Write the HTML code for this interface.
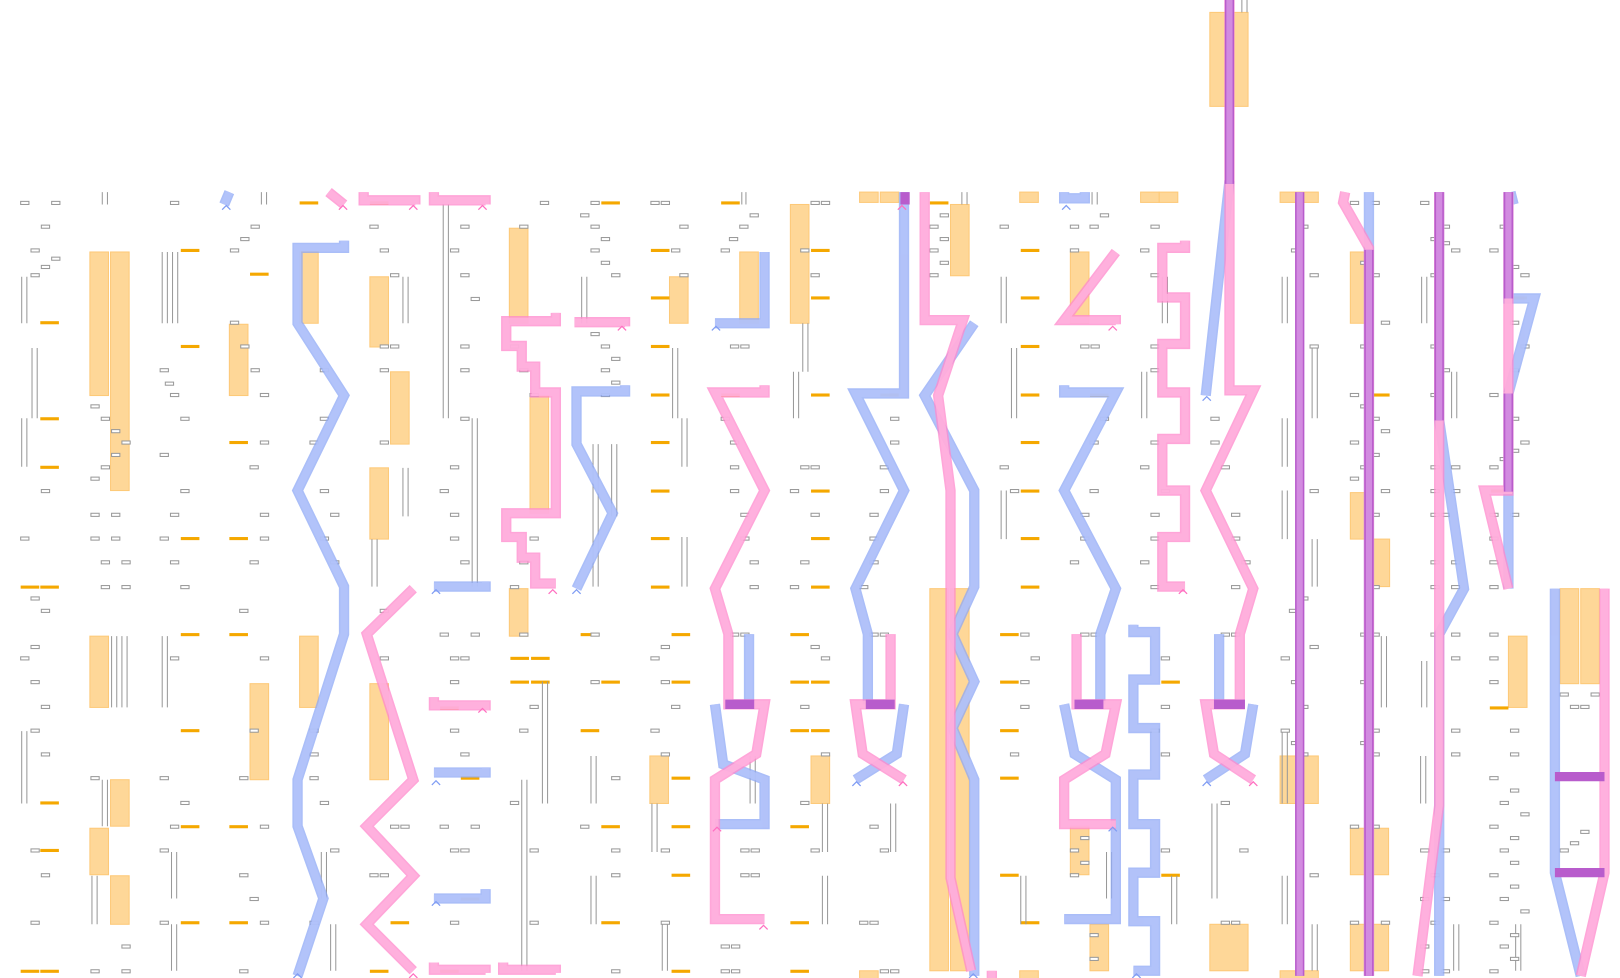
<!DOCTYPE html>
<html><head><meta charset="utf-8"><style>
html,body{margin:0;padding:0;background:#fff;overflow:hidden}
svg{display:block}
.o{fill:#fed798;stroke:#fdc978;stroke-width:1}
.b{fill:#f5a800}
.bo{fill:none;stroke:#8ea8f6;stroke-width:10;stroke-linejoin:miter;opacity:.75}
.bi{fill:none;stroke:#b4c4fa;stroke-width:7;stroke-linejoin:miter;opacity:.85}
.po{fill:none;stroke:#ff88cc;stroke-width:10;stroke-linejoin:miter;opacity:.75}
.pi{fill:none;stroke:#ffb2de;stroke-width:7;stroke-linejoin:miter;opacity:.85}
.u{stroke:#b85ccc;stroke-width:9;fill:none}
.ui{stroke:#d28be0;stroke-width:6;fill:none}
.g{fill:#fff;stroke:#999;stroke-width:1}
.v{stroke:#999;stroke-width:1}
</style></head><body>
<svg width="1620" height="978" viewBox="0 0 1568 947" preserveAspectRatio="none">
<g class="o">
<rect x="87" y="244" width="18" height="139"/><rect x="107" y="244" width="18" height="231"/>
<rect x="1171" y="12" width="37" height="91"/>
<rect x="290" y="244" width="18" height="69"/><rect x="358" y="268" width="18" height="68"/>
<rect x="378" y="360" width="18" height="70"/><rect x="222" y="314" width="18" height="69"/>
<rect x="358" y="453" width="18" height="69"/><rect x="493" y="221" width="18" height="92"/>
<rect x="513" y="383" width="18" height="114"/><rect x="648" y="268" width="18" height="45"/>
<rect x="716" y="244" width="18" height="69"/><rect x="765" y="198" width="18" height="115"/>
<rect x="920" y="198" width="18" height="69"/><rect x="1036" y="244" width="18" height="69"/>
<rect x="832" y="186" width="18" height="10"/><rect x="852" y="186" width="18" height="10"/>
<rect x="1104" y="186" width="18" height="10"/><rect x="1122" y="186" width="18" height="10"/>
<rect x="1239" y="186" width="37" height="10"/><rect x="987" y="186" width="18" height="10"/>
<rect x="1307" y="244" width="18" height="69"/><rect x="1307" y="477" width="18" height="45"/>
<rect x="1327" y="522" width="18" height="46"/>
<rect x="87" y="616" width="18" height="69"/><rect x="290" y="616" width="18" height="69"/>
<rect x="242" y="662" width="18" height="93"/><rect x="358" y="662" width="18" height="93"/>
<rect x="493" y="570" width="18" height="46"/>
<rect x="107" y="755" width="18" height="45"/><rect x="87" y="802" width="18" height="45"/>
<rect x="107" y="848" width="18" height="47"/>
<rect x="629" y="732" width="18" height="46"/><rect x="785" y="732" width="18" height="46"/>
<rect x="1239" y="732" width="37" height="46"/>
<rect x="1307" y="802" width="37" height="45"/><rect x="1307" y="895" width="37" height="45"/>
<rect x="1171" y="895" width="37" height="45"/><rect x="1055" y="895" width="18" height="45"/>
<rect x="1036" y="800" width="18" height="47"/><rect x="1460" y="616" width="18" height="69"/>
<rect x="1510" y="570" width="18" height="92"/><rect x="1530" y="570" width="18" height="92"/>
<rect x="900" y="570" width="18" height="370"/><rect x="920" y="570" width="18" height="370"/>
<rect x="832" y="940" width="18" height="8"/><rect x="987" y="940" width="18" height="8"/>
<rect x="1239" y="940" width="37" height="8"/>
</g>
<g class="b">
<rect x="20" y="567" width="18" height="3"/><rect x="39" y="567" width="18" height="3"/>
<rect x="20" y="939" width="18" height="3"/><rect x="39" y="939" width="18" height="3"/>
<rect x="39" y="311" width="18" height="3"/><rect x="39" y="404" width="18" height="3"/>
<rect x="39" y="451" width="18" height="3"/><rect x="39" y="776" width="18" height="3"/>
<rect x="39" y="822" width="18" height="3"/>
<rect x="175" y="241" width="18" height="3"/><rect x="175" y="334" width="18" height="3"/>
<rect x="175" y="520" width="18" height="3"/><rect x="175" y="613" width="18" height="3"/>
<rect x="175" y="706" width="18" height="3"/><rect x="175" y="799" width="18" height="3"/>
<rect x="175" y="892" width="18" height="3"/>
<rect x="222" y="427" width="18" height="3"/><rect x="222" y="520" width="18" height="3"/>
<rect x="222" y="613" width="18" height="3"/><rect x="222" y="799" width="18" height="3"/>
<rect x="222" y="892" width="18" height="3"/><rect x="242" y="264" width="18" height="3"/>
<rect x="290" y="195" width="18" height="3"/><rect x="358" y="195" width="18" height="3"/>
<rect x="358" y="939" width="18" height="3"/><rect x="378" y="892" width="18" height="3"/>
<rect x="426" y="684" width="18" height="3"/><rect x="426" y="939" width="18" height="3"/>
<rect x="446" y="752" width="18" height="3"/><rect x="446" y="869" width="18" height="3"/>
<rect x="494" y="636" width="18" height="3"/><rect x="514" y="636" width="18" height="3"/>
<rect x="494" y="659" width="18" height="3"/><rect x="514" y="659" width="18" height="3"/>
<rect x="562" y="613" width="18" height="3"/><rect x="562" y="706" width="18" height="3"/>
<rect x="582" y="195" width="18" height="3"/><rect x="582" y="659" width="18" height="3"/>
<rect x="582" y="799" width="18" height="3"/><rect x="582" y="892" width="18" height="3"/>
<rect x="630" y="241" width="18" height="3"/><rect x="630" y="287" width="18" height="3"/>
<rect x="630" y="334" width="18" height="3"/><rect x="630" y="381" width="18" height="3"/>
<rect x="630" y="427" width="18" height="3"/><rect x="630" y="474" width="18" height="3"/>
<rect x="630" y="520" width="18" height="3"/><rect x="630" y="567" width="18" height="3"/>
<rect x="650" y="613" width="18" height="3"/><rect x="650" y="659" width="18" height="3"/>
<rect x="650" y="752" width="18" height="3"/><rect x="650" y="799" width="18" height="3"/>
<rect x="650" y="846" width="18" height="3"/><rect x="650" y="939" width="18" height="3"/>
<rect x="698" y="195" width="18" height="3"/><rect x="698" y="381" width="18" height="3"/>
<rect x="765" y="613" width="18" height="3"/><rect x="765" y="659" width="18" height="3"/>
<rect x="765" y="706" width="18" height="3"/><rect x="765" y="799" width="18" height="3"/>
<rect x="765" y="892" width="18" height="3"/><rect x="765" y="939" width="18" height="3"/>
<rect x="785" y="241" width="18" height="3"/><rect x="785" y="287" width="18" height="3"/>
<rect x="785" y="381" width="18" height="3"/><rect x="785" y="474" width="18" height="3"/>
<rect x="785" y="520" width="18" height="3"/><rect x="785" y="567" width="18" height="3"/>
<rect x="785" y="659" width="18" height="3"/><rect x="785" y="706" width="18" height="3"/>
<rect x="852" y="381" width="18" height="3"/><rect x="900" y="195" width="18" height="3"/>
<rect x="968" y="613" width="18" height="3"/><rect x="968" y="659" width="18" height="3"/>
<rect x="968" y="706" width="18" height="3"/><rect x="968" y="752" width="18" height="3"/>
<rect x="968" y="846" width="18" height="3"/>
<rect x="988" y="241" width="18" height="3"/><rect x="988" y="287" width="18" height="3"/>
<rect x="988" y="334" width="18" height="3"/><rect x="988" y="381" width="18" height="3"/>
<rect x="988" y="427" width="18" height="3"/><rect x="988" y="474" width="18" height="3"/>
<rect x="988" y="520" width="18" height="3"/><rect x="988" y="567" width="18" height="3"/>
<rect x="988" y="892" width="18" height="3"/><rect x="1055" y="381" width="18" height="3"/>
<rect x="1124" y="659" width="18" height="3"/><rect x="1124" y="846" width="18" height="3"/>
<rect x="1460" y="287" width="18" height="3"/><rect x="1442" y="684" width="18" height="3"/>
<rect x="1443" y="474" width="18" height="3"/><rect x="1327" y="381" width="18" height="3"/>
</g>
<g class="v">
<path d="M21 268V313M26 268V313M31 337V405M36 337V405M21 405V452M26 405V452M99 186V198M104 186V198M157 244V313M162 244V313M167 244V313M172 244V313M253 186V198M258 186V198M429 198V405M434 198V405M457 405V568M462 405V568M563 268V313M568 268V313M574 430V568M579 430V568M592 430V500M597 430V500M651 337V405M656 337V405M660 405V452M665 405V452M718 186V198M722 186V198M768 360V405M773 360V405M777 313V360M782 313V360M931 186V198M936 186V198M969 268V313M974 268V313M979 337V405M984 337V405M969 475V522M974 475V522M1057 186V198M1062 186V198M1105 360V405M1110 360V405M1125 268V313M1130 268V313M1202 0V12M1207 0V12M1241 268V313M1246 268V313M1241 405V452M1246 405V452M1241 475V522M1246 475V522M1270 337V405M1275 337V405M1270 522V568M1275 522V568M1337 616V685M1342 616V685M1376 268V313M1381 268V313M1376 640V685M1381 640V685M1405 360V405M1410 360V405M108 616V685M113 616V685M118 616V685M123 616V685M157 616V685M162 616V685M21 708V778M26 708V778M99 755V800M104 755V800M89 848V895M94 848V895M166 825V870M171 825V870M166 895V940M171 895V940M311 825V870M316 825V870M320 895V940M325 895V940M360 522V568M365 522V568M390 268V313M395 268V313M390 453V500M395 453V500M505 755V940M510 755V940M525 660V778M530 660V778M572 732V778M577 732V778M572 848V895M577 848V895M631 778V825M636 778V825M641 895V940M646 895V940M660 520V568M665 520V568M726 732V778M731 732V778M796 778V825M801 778V825M796 848V895M801 848V895M862 778V825M867 778V825M988 848V895M993 848V895M1071 825V870M1076 825V870M1134 848V895M1139 848V895M1173 778V870M1178 778V870M1241 848V895M1246 848V895M1270 895V940M1275 895V940M1375 732V778M1380 732V778M1241 708V778M1246 708V778M1467 895V940M1472 895V940M1407 895V940M1412 895V940"/>
</g>
<g class="g">
<rect x="20" y="195" width="8" height="3"/><rect x="50" y="195" width="8" height="3"/><rect x="40" y="218" width="8" height="3"/>
<rect x="30" y="241" width="8" height="3"/><rect x="50" y="249" width="8" height="3"/><rect x="40" y="257" width="8" height="3"/><rect x="30" y="265" width="8" height="3"/>
<rect x="165" y="195" width="8" height="3"/><rect x="243" y="218" width="8" height="3"/><rect x="233" y="230" width="8" height="3"/><rect x="223" y="241" width="8" height="3"/>
<rect x="223" y="311" width="8" height="3"/><rect x="233" y="334" width="8" height="3"/><rect x="243" y="357" width="8" height="3"/><rect x="160" y="370" width="8" height="3"/>
<rect x="88" y="392" width="8" height="3"/><rect x="98" y="404" width="8" height="3"/><rect x="108" y="416" width="8" height="3"/><rect x="118" y="427" width="8" height="3"/>
<rect x="108" y="439" width="8" height="3"/><rect x="98" y="451" width="8" height="3"/><rect x="88" y="462" width="8" height="3"/><rect x="40" y="474" width="8" height="3"/>
<rect x="88" y="497" width="8" height="3"/><rect x="108" y="497" width="8" height="3"/><rect x="20" y="520" width="8" height="3"/><rect x="88" y="520" width="8" height="3"/><rect x="108" y="520" width="8" height="3"/>
<rect x="98" y="543" width="8" height="3"/><rect x="118" y="543" width="8" height="3"/><rect x="98" y="567" width="8" height="3"/><rect x="118" y="567" width="8" height="3"/>
<rect x="30" y="578" width="8" height="3"/><rect x="40" y="590" width="8" height="3"/><rect x="30" y="625" width="8" height="3"/><rect x="20" y="636" width="8" height="3"/>
<rect x="30" y="659" width="8" height="3"/><rect x="40" y="683" width="8" height="3"/><rect x="30" y="706" width="8" height="3"/><rect x="40" y="729" width="8" height="3"/>
<rect x="88" y="752" width="8" height="3"/><rect x="30" y="822" width="8" height="3"/><rect x="40" y="846" width="8" height="3"/><rect x="30" y="892" width="8" height="3"/>
<rect x="118" y="915" width="8" height="3"/><rect x="88" y="939" width="8" height="3"/><rect x="118" y="939" width="8" height="3"/>
<rect x="175" y="404" width="8" height="3"/><rect x="155" y="357" width="8" height="3"/><rect x="165" y="381" width="8" height="3"/><rect x="155" y="439" width="8" height="3"/>
<rect x="175" y="474" width="8" height="3"/><rect x="165" y="497" width="8" height="3"/><rect x="155" y="520" width="8" height="3"/><rect x="165" y="543" width="8" height="3"/>
<rect x="175" y="567" width="8" height="3"/><rect x="165" y="636" width="8" height="3"/><rect x="155" y="752" width="8" height="3"/><rect x="175" y="776" width="8" height="3"/>
<rect x="165" y="799" width="8" height="3"/><rect x="155" y="822" width="8" height="3"/><rect x="155" y="892" width="8" height="3"/>
<rect x="252" y="381" width="8" height="3"/><rect x="252" y="427" width="8" height="3"/><rect x="242" y="451" width="8" height="3"/><rect x="252" y="497" width="8" height="3"/>
<rect x="252" y="520" width="8" height="3"/><rect x="242" y="543" width="8" height="3"/><rect x="232" y="590" width="8" height="3"/><rect x="252" y="636" width="8" height="3"/>
<rect x="242" y="706" width="8" height="3"/><rect x="232" y="752" width="8" height="3"/><rect x="252" y="799" width="8" height="3"/><rect x="232" y="846" width="8" height="3"/><rect x="242" y="869" width="8" height="3"/>
<rect x="252" y="892" width="8" height="3"/><rect x="232" y="939" width="8" height="3"/>
<rect x="310" y="357" width="8" height="3"/><rect x="310" y="404" width="8" height="3"/><rect x="300" y="427" width="8" height="3"/><rect x="310" y="474" width="8" height="3"/>
<rect x="320" y="497" width="8" height="3"/><rect x="310" y="520" width="8" height="3"/><rect x="320" y="543" width="8" height="3"/><rect x="300" y="706" width="8" height="3"/>
<rect x="300" y="729" width="8" height="3"/><rect x="300" y="752" width="8" height="3"/><rect x="310" y="776" width="8" height="3"/><rect x="320" y="822" width="8" height="3"/><rect x="300" y="892" width="8" height="3"/>
<rect x="358" y="218" width="8" height="3"/><rect x="368" y="241" width="8" height="3"/><rect x="368" y="334" width="8" height="3"/><rect x="368" y="357" width="8" height="3"/>
<rect x="368" y="427" width="8" height="3"/><rect x="368" y="590" width="8" height="3"/><rect x="368" y="636" width="8" height="3"/><rect x="378" y="265" width="8" height="3"/>
<rect x="378" y="334" width="8" height="3"/><rect x="378" y="799" width="8" height="3"/><rect x="388" y="799" width="8" height="3"/><rect x="358" y="846" width="8" height="3"/><rect x="368" y="846" width="8" height="3"/>
<rect x="446" y="218" width="8" height="3"/><rect x="436" y="241" width="8" height="3"/><rect x="446" y="265" width="8" height="3"/><rect x="456" y="288" width="8" height="3"/>
<rect x="446" y="334" width="8" height="3"/><rect x="446" y="357" width="8" height="3"/><rect x="446" y="404" width="8" height="3"/><rect x="436" y="451" width="8" height="3"/>
<rect x="426" y="474" width="8" height="3"/><rect x="436" y="497" width="8" height="3"/><rect x="436" y="520" width="8" height="3"/><rect x="446" y="543" width="8" height="3"/>
<rect x="426" y="613" width="8" height="3"/><rect x="456" y="613" width="8" height="3"/><rect x="436" y="636" width="8" height="3"/><rect x="446" y="636" width="8" height="3"/>
<rect x="436" y="659" width="8" height="3"/><rect x="436" y="706" width="8" height="3"/><rect x="446" y="729" width="8" height="3"/><rect x="426" y="799" width="8" height="3"/>
<rect x="456" y="799" width="8" height="3"/><rect x="436" y="822" width="8" height="3"/><rect x="446" y="822" width="8" height="3"/><rect x="436" y="892" width="8" height="3"/>
<rect x="523" y="195" width="8" height="3"/><rect x="503" y="218" width="8" height="3"/><rect x="494" y="334" width="8" height="3"/><rect x="503" y="357" width="8" height="3"/>
<rect x="513" y="381" width="8" height="3"/><rect x="513" y="520" width="8" height="3"/><rect x="503" y="543" width="8" height="3"/><rect x="494" y="567" width="8" height="3"/>
<rect x="503" y="613" width="8" height="3"/><rect x="513" y="683" width="8" height="3"/><rect x="503" y="706" width="8" height="3"/><rect x="494" y="776" width="8" height="3"/>
<rect x="513" y="822" width="8" height="3"/><rect x="513" y="892" width="8" height="3"/>
<rect x="572" y="195" width="8" height="3"/><rect x="562" y="207" width="8" height="3"/><rect x="572" y="218" width="8" height="3"/><rect x="582" y="230" width="8" height="3"/>
<rect x="572" y="241" width="8" height="3"/><rect x="582" y="253" width="8" height="3"/><rect x="592" y="265" width="8" height="3"/><rect x="572" y="322" width="8" height="3"/>
<rect x="582" y="334" width="8" height="3"/><rect x="592" y="346" width="8" height="3"/><rect x="582" y="357" width="8" height="3"/><rect x="592" y="369" width="8" height="3"/>
<rect x="582" y="381" width="8" height="3"/><rect x="572" y="613" width="8" height="3"/><rect x="572" y="659" width="8" height="3"/><rect x="592" y="752" width="8" height="3"/>
<rect x="562" y="799" width="8" height="3"/><rect x="592" y="822" width="8" height="3"/><rect x="592" y="846" width="8" height="3"/><rect x="592" y="939" width="8" height="3"/>
<rect x="630" y="195" width="8" height="3"/><rect x="640" y="195" width="8" height="3"/><rect x="658" y="218" width="8" height="3"/><rect x="650" y="241" width="8" height="3"/>
<rect x="658" y="265" width="8" height="3"/><rect x="640" y="625" width="8" height="3"/><rect x="630" y="636" width="8" height="3"/><rect x="640" y="659" width="8" height="3"/>
<rect x="650" y="683" width="8" height="3"/><rect x="630" y="706" width="8" height="3"/><rect x="640" y="729" width="8" height="3"/><rect x="640" y="822" width="8" height="3"/><rect x="640" y="892" width="8" height="3"/>
<rect x="726" y="207" width="8" height="3"/><rect x="716" y="218" width="8" height="3"/><rect x="706" y="230" width="8" height="3"/><rect x="698" y="241" width="8" height="3"/>
<rect x="707" y="334" width="8" height="3"/><rect x="717" y="334" width="8" height="3"/><rect x="698" y="404" width="8" height="3"/><rect x="707" y="427" width="8" height="3"/>
<rect x="707" y="451" width="8" height="3"/><rect x="707" y="474" width="8" height="3"/><rect x="717" y="497" width="8" height="3"/><rect x="717" y="520" width="8" height="3"/>
<rect x="726" y="543" width="8" height="3"/><rect x="726" y="567" width="8" height="3"/><rect x="707" y="613" width="8" height="3"/><rect x="717" y="613" width="8" height="3"/>
<rect x="717" y="822" width="8" height="3"/><rect x="727" y="822" width="8" height="3"/><rect x="717" y="846" width="8" height="3"/><rect x="727" y="846" width="8" height="3"/>
<rect x="698" y="915" width="8" height="3"/><rect x="708" y="915" width="8" height="3"/><rect x="698" y="939" width="8" height="3"/><rect x="708" y="939" width="8" height="3"/>
<rect x="785" y="195" width="8" height="3"/><rect x="795" y="195" width="8" height="3"/><rect x="775" y="241" width="8" height="3"/><rect x="785" y="265" width="8" height="3"/>
<rect x="775" y="451" width="8" height="3"/><rect x="785" y="451" width="8" height="3"/><rect x="765" y="474" width="8" height="3"/><rect x="785" y="497" width="8" height="3"/>
<rect x="775" y="543" width="8" height="3"/><rect x="765" y="567" width="8" height="3"/><rect x="785" y="625" width="8" height="3"/><rect x="795" y="636" width="8" height="3"/>
<rect x="775" y="683" width="8" height="3"/><rect x="795" y="729" width="8" height="3"/><rect x="775" y="776" width="8" height="3"/><rect x="785" y="822" width="8" height="3"/>
<rect x="862" y="404" width="8" height="3"/><rect x="862" y="427" width="8" height="3"/><rect x="852" y="451" width="8" height="3"/><rect x="852" y="474" width="8" height="3"/>
<rect x="842" y="497" width="8" height="3"/><rect x="842" y="520" width="8" height="3"/><rect x="842" y="543" width="8" height="3"/><rect x="832" y="567" width="8" height="3"/>
<rect x="842" y="613" width="8" height="3"/><rect x="852" y="613" width="8" height="3"/><rect x="842" y="799" width="8" height="3"/><rect x="852" y="822" width="8" height="3"/>
<rect x="832" y="892" width="8" height="3"/><rect x="842" y="892" width="8" height="3"/><rect x="852" y="939" width="8" height="3"/><rect x="862" y="939" width="8" height="3"/>
<rect x="900" y="218" width="8" height="3"/><rect x="910" y="207" width="8" height="3"/><rect x="910" y="230" width="8" height="3"/><rect x="900" y="241" width="8" height="3"/>
<rect x="910" y="253" width="8" height="3"/><rect x="900" y="265" width="8" height="3"/>
<rect x="968" y="218" width="8" height="3"/><rect x="968" y="451" width="8" height="3"/><rect x="978" y="474" width="8" height="3"/><rect x="978" y="729" width="8" height="3"/>
<rect x="988" y="613" width="8" height="3"/><rect x="998" y="636" width="8" height="3"/><rect x="988" y="659" width="8" height="3"/><rect x="988" y="683" width="8" height="3"/>
<rect x="1036" y="218" width="8" height="3"/><rect x="1065" y="207" width="8" height="3"/><rect x="1055" y="218" width="8" height="3"/><rect x="1036" y="241" width="8" height="3"/>
<rect x="1046" y="334" width="8" height="3"/><rect x="1056" y="334" width="8" height="3"/><rect x="1065" y="404" width="8" height="3"/><rect x="1055" y="427" width="8" height="3"/>
<rect x="1055" y="474" width="8" height="3"/><rect x="1046" y="497" width="8" height="3"/><rect x="1046" y="520" width="8" height="3"/><rect x="1036" y="543" width="8" height="3"/>
<rect x="1046" y="613" width="8" height="3"/><rect x="1056" y="613" width="8" height="3"/><rect x="1046" y="810" width="8" height="3"/><rect x="1036" y="822" width="8" height="3"/>
<rect x="1046" y="834" width="8" height="3"/><rect x="1036" y="846" width="8" height="3"/><rect x="1055" y="904" width="8" height="3"/><rect x="1055" y="927" width="8" height="3"/>
<rect x="1114" y="218" width="8" height="3"/><rect x="1104" y="241" width="8" height="3"/><rect x="1114" y="265" width="8" height="3"/><rect x="1114" y="334" width="8" height="3"/>
<rect x="1114" y="357" width="8" height="3"/><rect x="1114" y="427" width="8" height="3"/><rect x="1104" y="451" width="8" height="3"/><rect x="1124" y="474" width="8" height="3"/>
<rect x="1114" y="497" width="8" height="3"/><rect x="1114" y="520" width="8" height="3"/><rect x="1104" y="543" width="8" height="3"/><rect x="1114" y="567" width="8" height="3"/>
<rect x="1124" y="636" width="8" height="3"/><rect x="1124" y="683" width="8" height="3"/><rect x="1114" y="706" width="8" height="3"/><rect x="1124" y="729" width="8" height="3"/>
<rect x="1124" y="822" width="8" height="3"/>
<rect x="1172" y="404" width="8" height="3"/><rect x="1172" y="427" width="8" height="3"/><rect x="1182" y="451" width="8" height="3"/><rect x="1192" y="497" width="8" height="3"/>
<rect x="1192" y="520" width="8" height="3"/><rect x="1202" y="543" width="8" height="3"/><rect x="1192" y="567" width="8" height="3"/><rect x="1182" y="613" width="8" height="3"/>
<rect x="1192" y="613" width="8" height="3"/><rect x="1182" y="776" width="8" height="3"/><rect x="1200" y="822" width="8" height="3"/><rect x="1182" y="892" width="8" height="3"/><rect x="1192" y="892" width="8" height="3"/>
<rect x="1258" y="218" width="8" height="3"/><rect x="1250" y="241" width="8" height="3"/><rect x="1268" y="265" width="8" height="3"/><rect x="1268" y="334" width="8" height="3"/>
<rect x="1268" y="474" width="8" height="3"/><rect x="1258" y="578" width="8" height="3"/><rect x="1248" y="590" width="8" height="3"/><rect x="1268" y="625" width="8" height="3"/>
<rect x="1240" y="636" width="8" height="3"/><rect x="1250" y="659" width="8" height="3"/><rect x="1258" y="683" width="8" height="3"/><rect x="1240" y="706" width="8" height="3"/>
<rect x="1250" y="718" width="8" height="3"/><rect x="1258" y="729" width="8" height="3"/><rect x="1268" y="846" width="8" height="3"/>
<rect x="1307" y="195" width="8" height="3"/><rect x="1327" y="195" width="8" height="3"/><rect x="1317" y="253" width="8" height="3"/><rect x="1327" y="265" width="8" height="3"/>
<rect x="1337" y="311" width="8" height="3"/><rect x="1317" y="334" width="8" height="3"/><rect x="1307" y="381" width="8" height="3"/><rect x="1317" y="392" width="8" height="3"/>
<rect x="1327" y="404" width="8" height="3"/><rect x="1337" y="416" width="8" height="3"/><rect x="1307" y="427" width="8" height="3"/><rect x="1327" y="439" width="8" height="3"/>
<rect x="1317" y="451" width="8" height="3"/><rect x="1307" y="462" width="8" height="3"/><rect x="1337" y="474" width="8" height="3"/><rect x="1327" y="497" width="8" height="3"/>
<rect x="1327" y="567" width="8" height="3"/><rect x="1317" y="613" width="8" height="3"/><rect x="1327" y="613" width="8" height="3"/><rect x="1317" y="659" width="8" height="3"/>
<rect x="1327" y="706" width="8" height="3"/><rect x="1317" y="718" width="8" height="3"/><rect x="1327" y="729" width="8" height="3"/><rect x="1307" y="799" width="8" height="3"/>
<rect x="1327" y="799" width="8" height="3"/><rect x="1337" y="892" width="8" height="3"/><rect x="1307" y="892" width="8" height="3"/>
<rect x="1375" y="195" width="8" height="3"/><rect x="1395" y="218" width="8" height="3"/><rect x="1385" y="230" width="8" height="3"/><rect x="1395" y="234" width="8" height="3"/>
<rect x="1405" y="241" width="8" height="3"/><rect x="1385" y="265" width="8" height="3"/><rect x="1385" y="334" width="8" height="3"/><rect x="1395" y="357" width="8" height="3"/>
<rect x="1385" y="381" width="8" height="3"/><rect x="1385" y="451" width="8" height="3"/><rect x="1405" y="451" width="8" height="3"/><rect x="1385" y="474" width="8" height="3"/>
<rect x="1405" y="474" width="8" height="3"/><rect x="1385" y="497" width="8" height="3"/><rect x="1395" y="497" width="8" height="3"/><rect x="1385" y="543" width="8" height="3"/>
<rect x="1405" y="543" width="8" height="3"/><rect x="1385" y="567" width="8" height="3"/><rect x="1405" y="567" width="8" height="3"/><rect x="1385" y="613" width="8" height="3"/>
<rect x="1405" y="613" width="8" height="3"/><rect x="1405" y="636" width="8" height="3"/><rect x="1405" y="706" width="8" height="3"/><rect x="1405" y="729" width="8" height="3"/>
<rect x="1375" y="822" width="8" height="3"/><rect x="1395" y="822" width="8" height="3"/><rect x="1385" y="846" width="8" height="3"/><rect x="1375" y="869" width="8" height="3"/>
<rect x="1395" y="869" width="8" height="3"/><rect x="1385" y="892" width="8" height="3"/><rect x="1375" y="915" width="8" height="3"/><rect x="1375" y="939" width="8" height="3"/><rect x="1395" y="939" width="8" height="3"/>
<rect x="1452" y="218" width="8" height="3"/><rect x="1442" y="241" width="8" height="3"/><rect x="1462" y="257" width="8" height="3"/><rect x="1472" y="265" width="8" height="3"/>
<rect x="1462" y="311" width="8" height="3"/><rect x="1472" y="334" width="8" height="3"/><rect x="1462" y="357" width="8" height="3"/><rect x="1442" y="381" width="8" height="3"/>
<rect x="1462" y="404" width="8" height="3"/><rect x="1472" y="427" width="8" height="3"/><rect x="1462" y="435" width="8" height="3"/><rect x="1452" y="443" width="8" height="3"/>
<rect x="1442" y="451" width="8" height="3"/><rect x="1442" y="497" width="8" height="3"/><rect x="1462" y="497" width="8" height="3"/><rect x="1442" y="520" width="8" height="3"/>
<rect x="1442" y="543" width="8" height="3"/><rect x="1442" y="567" width="8" height="3"/><rect x="1442" y="613" width="8" height="3"/><rect x="1442" y="636" width="8" height="3"/>
<rect x="1442" y="659" width="8" height="3"/><rect x="1462" y="706" width="8" height="3"/><rect x="1462" y="729" width="8" height="3"/><rect x="1442" y="752" width="8" height="3"/>
<rect x="1462" y="764" width="8" height="3"/><rect x="1452" y="776" width="8" height="3"/><rect x="1472" y="787" width="8" height="3"/><rect x="1442" y="799" width="8" height="3"/>
<rect x="1462" y="810" width="8" height="3"/><rect x="1452" y="822" width="8" height="3"/><rect x="1462" y="834" width="8" height="3"/><rect x="1442" y="846" width="8" height="3"/>
<rect x="1462" y="857" width="8" height="3"/><rect x="1452" y="869" width="8" height="3"/><rect x="1472" y="881" width="8" height="3"/><rect x="1442" y="892" width="8" height="3"/>
<rect x="1462" y="904" width="8" height="3"/><rect x="1452" y="915" width="8" height="3"/><rect x="1462" y="927" width="8" height="3"/><rect x="1442" y="939" width="8" height="3"/>
<rect x="1510" y="671" width="8" height="3"/><rect x="1520" y="683" width="8" height="3"/><rect x="1530" y="683" width="8" height="3"/><rect x="1540" y="671" width="8" height="3"/>
<rect x="1530" y="804" width="8" height="3"/><rect x="1520" y="815" width="8" height="3"/><rect x="1510" y="822" width="8" height="3"/>
</g>
<defs>
<g id="blue">
<path d="M222 186L217 198"/>
<path d="M333 233V240H288V313L333 383L288 475L333 568V614L288 755V800L313 870L288 945"/>
<path d="M420 568H470V563"/><path d="M420 748H470V743"/><path d="M420 870H470V861"/>
<path d="M605 373V379H558V430L593 497L558 570"/>
<path d="M740 244V313H692"/>
<path d="M725 614V682M692 682L700 740L740 755V798H692"/>
<path d="M875 186V381H828L875 475L828 570L840 614V682M875 682L868 730L828 755"/>
<path d="M943 313L895 383L943 475V568L922 614L943 660L922 705L943 755V945"/>
<path d="M1030 186V192H1050V186"/>
<path d="M1030 373V380H1080L1030 475L1080 570L1065 614V682M1030 682L1040 730L1080 755V890H1030"/>
<path d="M1097 605V612H1118V658H1097V705H1118V750H1097V798H1118V845H1097V892H1118V940H1097"/>
<path d="M1190 175L1167 383"/>
<path d="M1180 614V682M1213 682L1205 730L1167 755"/>
<path d="M1325 186V945"/>
<path d="M1393 186V407L1417 570L1393 614V945"/>
<path d="M1460 186V289H1485L1460 381M1460 381V570M1462 186L1465 198"/>
<path d="M1505 570V845L1530 945"/>
</g>
<g id="pink">
<path d="M318 186L333 198"/>
<path d="M352 186V194H402V198"/>
<path d="M400 570L355 614L400 755L355 800L400 848L355 895L400 940"/>
<path d="M420 186V194H470V198M420 675V683H470V688M420 932V939H470V942"/>
<path d="M538 303V311H490V335H505V355H518V380H538V497H490V520H505V540H518V565H538"/>
<path d="M487 932V939H538V942"/>
<path d="M556 312H605V316"/>
<path d="M740 373V380H692L740 475L692 570L705 614V682H740L732 730L692 755V890H740"/>
<path d="M862 614V682H828L835 730L875 755"/>
<path d="M895 186V310H932L908 383L920 475V850L940 940"/>
<path d="M960 940V948"/>
<path d="M1080 244L1030 310H1080V314"/>
<path d="M1042 614V682H1080L1070 730L1030 755V798H1080"/>
<path d="M1147 233V240H1125V288H1147V333H1125V380H1147V425H1125V475H1147V520H1125V568H1147"/>
<path d="M1190 0V378H1213L1167 475L1213 570L1200 614V682H1167L1175 730L1213 755"/>
<path d="M1302 186L1300 196L1325 240V945"/>
<path d="M1393 186V780L1372 945"/>
<path d="M1460 186V475H1437L1460 570"/>
<path d="M1553 570V845L1530 945"/>
</g>
</defs>
<use href="#blue" class="bo"/><use href="#blue" class="bi"/>
<use href="#pink" class="po"/><use href="#pink" class="pi"/>
<g>
<path class="u" d="M1190 0V178M1258 186V945M1325 242V945M1393 186V407M1460 186V289M1460 381V476M1505 752H1553M1505 845H1553M838 682H866M702 682H730M1040 682H1068M1175 682H1205M876 186V198"/>
<path class="ui" d="M1190 0V178M1258 186V945M1325 242V945M1393 186V407M1460 186V289M1460 381V476"/>
</g>
<g fill="none" stroke-width="1.2">
<path d="M215 203L219 199L223 203" stroke="#7f9cf3"/><path d="M328 203L332 199L336 203" stroke="#ff6fc0"/>
<path d="M396 203L400 199L404 203" stroke="#ff6fc0"/><path d="M463 203L467 199L471 203" stroke="#ff6fc0"/>
<path d="M418 575L422 571L426 575" stroke="#7f9cf3"/><path d="M531 575L535 571L539 575" stroke="#ff6fc0"/>
<path d="M554 575L558 571L562 575" stroke="#7f9cf3"/><path d="M598 320L602 316L606 320" stroke="#ff6fc0"/>
<path d="M689 320L693 316L697 320" stroke="#7f9cf3"/><path d="M825 761L829 757L833 761" stroke="#7f9cf3"/>
<path d="M870 761L874 757L878 761" stroke="#ff6fc0"/><path d="M869 203L873 199L877 203" stroke="#ff6fc0"/>
<path d="M1028 203L1032 199L1036 203" stroke="#7f9cf3"/><path d="M1073 320L1077 316L1081 320" stroke="#ff6fc0"/>
<path d="M1141 575L1145 571L1149 575" stroke="#ff6fc0"/><path d="M1164 388L1168 384L1172 388" stroke="#7f9cf3"/>
<path d="M1164 761L1168 757L1172 761" stroke="#7f9cf3"/><path d="M1209 761L1213 757L1217 761" stroke="#ff6fc0"/>
<path d="M735 900L739 896L743 900" stroke="#ff6fc0"/><path d="M690 805L694 801L698 805" stroke="#ff6fc0"/>
<path d="M1073 805L1077 801L1081 805" stroke="#7f9cf3"/><path d="M418 760L422 756L426 760" stroke="#7f9cf3"/>
<path d="M463 690L467 686L471 690" stroke="#ff6fc0"/><path d="M418 877L422 873L426 877" stroke="#7f9cf3"/>
<path d="M284 947L288 943L292 947" stroke="#7f9cf3"/><path d="M396 947L400 943L404 947" stroke="#ff6fc0"/>
<path d="M1096 947L1100 943L1104 947" stroke="#7f9cf3"/><path d="M938 947L942 943L946 947" stroke="#7f9cf3"/>
</g>
</svg>
</body></html>
